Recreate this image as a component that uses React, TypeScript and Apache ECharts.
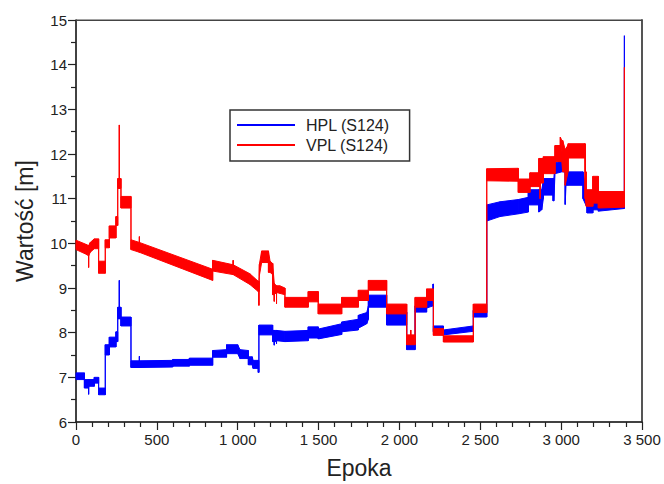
import React, { useEffect, useRef } from "react";
import * as echarts from "echarts";

// Epoch range and tick settings
const xTicks = [0, 500, 1000, 1500, 2000, 2500, 3000, 3500];
const yTicks = [6, 7, 8, 9, 10, 11, 12, 13, 14, 15];

const hplName = "HPL (S124)";
const vplName = "VPL (S124)";

// [epoch, lower edge of band, upper edge of band]
const hplRows: [number, number, number][] = [
  [0, 6.95, 7.1], [52, 6.95, 7.1], [52, 6.76, 6.95], [78, 6.76, 6.95], [78, 6.62, 6.95],
  [78, 6.8, 6.95], [113, 6.8, 6.95], [113, 6.87, 7.0], [140, 6.87, 7.0], [140, 6.61, 6.76],
  [181, 6.61, 6.76], [181, 7.5, 7.73], [206, 7.5, 7.73], [206, 7.68, 7.9], [247, 7.68, 7.9],
  [247, 7.8, 8.02], [258, 7.8, 8.02], [258, 8.31, 8.57], [268, 8.31, 8.57], [268, 8.31, 9.17],
  [268, 8.31, 8.57], [278, 8.31, 8.57], [278, 8.15, 8.35], [340, 8.15, 8.35], [340, 7.22, 7.37],
  [392, 7.22, 7.37], [392, 7.22, 7.47], [392, 7.22, 7.37], [598, 7.23, 7.38], [598, 7.25, 7.4],
  [701, 7.25, 7.4], [701, 7.27, 7.43], [845, 7.27, 7.43], [845, 7.45, 7.6], [931, 7.45, 7.62],
  [931, 7.53, 7.73], [1000, 7.53, 7.73], [1014, 7.42, 7.62], [1066, 7.42, 7.6], [1066, 7.28, 7.46],
  [1090, 7.28, 7.46], [1095, 7.2, 7.38], [1127, 7.2, 7.38], [1127, 7.11, 7.38], [1131, 7.11, 7.38],
  [1131, 7.95, 8.17], [1216, 7.95, 8.17], [1216, 7.8, 8.05], [1226, 7.8, 8.05], [1226, 7.72, 8.05],
  [1226, 7.8, 8.05], [1240, 7.8, 8.05], [1240, 7.75, 8.05], [1240, 7.82, 8.05], [1292, 7.8, 8.03],
  [1436, 7.82, 8.05], [1436, 7.88, 8.13], [1498, 7.88, 8.13], [1498, 7.86, 8.08], [1643, 7.96, 8.2],
  [1643, 8.02, 8.24], [1746, 8.06, 8.3], [1746, 8.1, 8.39], [1798, 8.2, 8.45], [1808, 8.3, 8.6],
  [1808, 8.57, 8.84], [1921, 8.57, 8.84], [1921, 8.17, 8.46], [2045, 8.17, 8.46], [2045, 7.62, 7.84],
  [2097, 7.62, 7.84], [2097, 8.46, 8.6], [2168, 8.46, 8.62], [2168, 8.55, 8.84], [2208, 8.6, 8.9],
  [2208, 8.6, 9.09], [2210, 8.6, 9.09], [2210, 8.02, 8.15], [2272, 8.02, 8.15], [2272, 7.95, 8.06],
  [2457, 8.03, 8.15], [2457, 8.35, 8.5], [2540, 8.35, 8.5], [2540, 10.5, 10.86], [2622, 10.6, 10.93],
  [2735, 10.66, 10.98], [2797, 10.7, 11.03], [2797, 10.86, 11.2], [2862, 10.86, 11.2], [2862, 10.7, 11.2],
  [2880, 10.75, 11.2], [2890, 11.0, 11.4], [2890, 11.08, 11.45], [2950, 11.08, 11.45], [2950, 10.95, 11.45],
  [2955, 10.95, 11.45], [2962, 11.56, 11.8], [3004, 11.6, 11.85], [3004, 11.6, 12.05], [3025, 11.6, 12.05],
  [3025, 10.87, 12.05], [3030, 11.3, 11.7], [3043, 11.3, 11.6], [3135, 11.3, 11.6], [3135, 11.0, 11.6],
  [3160, 10.8, 11.1], [3160, 10.68, 10.9], [3196, 10.68, 10.9], [3196, 10.75, 11.05], [3230, 10.75, 11.05],
  [3230, 10.72, 10.85], [3391, 10.78, 10.9], [3391, 10.78, 14.65],
];

const vplRows: [number, number, number][] = [
  [0, 9.86, 10.07], [60, 9.76, 9.98], [78, 9.72, 9.95], [78, 9.46, 9.95], [78, 9.72, 9.95],
  [88, 9.8, 10.02], [113, 9.88, 10.1], [140, 9.88, 10.1], [140, 9.33, 9.6], [181, 9.33, 9.6],
  [181, 9.9, 10.08], [206, 9.9, 10.08], [206, 10.12, 10.39], [247, 10.12, 10.39], [247, 10.4, 10.6],
  [258, 10.4, 10.6], [258, 11.23, 11.45], [268, 11.23, 11.45], [268, 11.23, 12.65], [268, 11.23, 11.45],
  [278, 11.23, 11.45], [278, 10.79, 11.05], [340, 10.79, 11.05], [340, 9.86, 10.08], [392, 9.8, 10.02],
  [392, 9.8, 10.15], [392, 9.8, 10.02], [845, 9.17, 9.42], [845, 9.38, 9.62], [972, 9.3, 9.52],
  [972, 9.3, 9.62], [972, 9.3, 9.52], [1075, 9.08, 9.32], [1127, 8.92, 9.15], [1131, 8.92, 9.15],
  [1131, 8.61, 9.15], [1131, 8.92, 9.15], [1134, 9.28, 9.53], [1148, 9.57, 9.83], [1190, 9.57, 9.83],
  [1190, 9.35, 9.83], [1200, 9.35, 9.6], [1216, 9.3, 9.55], [1216, 8.85, 9.55], [1226, 8.85, 9.1],
  [1226, 8.7, 9.1], [1226, 8.85, 9.1], [1240, 8.9, 9.05], [1240, 8.65, 9.05], [1240, 8.9, 9.05],
  [1260, 8.88, 9.05], [1292, 8.85, 9.0], [1292, 8.57, 8.79], [1436, 8.57, 8.79], [1436, 8.69, 8.92],
  [1498, 8.69, 8.92], [1498, 8.42, 8.64], [1643, 8.42, 8.64], [1643, 8.57, 8.79], [1746, 8.57, 8.79],
  [1746, 8.72, 8.95], [1808, 8.72, 8.95], [1808, 8.95, 9.17], [1921, 8.95, 9.17], [1921, 8.42, 8.64],
  [2045, 8.42, 8.64], [2045, 7.73, 7.95], [2070, 7.73, 7.95], [2070, 7.73, 8.06], [2070, 7.73, 7.95],
  [2097, 7.73, 7.95], [2097, 8.57, 8.79], [2168, 8.57, 8.79], [2168, 8.72, 8.98], [2210, 8.72, 8.98],
  [2210, 7.94, 8.09], [2272, 7.94, 8.09], [2272, 7.79, 7.93], [2457, 7.79, 7.93], [2457, 8.45, 8.64],
  [2540, 8.45, 8.64], [2540, 11.4, 11.67], [2735, 11.39, 11.68], [2735, 11.14, 11.44], [2807, 11.14, 11.44],
  [2807, 11.27, 11.58], [2862, 11.27, 11.58], [2862, 11.27, 11.9], [2870, 11.27, 11.9], [2870, 11.0, 11.9],
  [2870, 11.35, 11.9], [2890, 11.35, 11.9], [2890, 11.56, 11.94], [2962, 11.56, 11.94], [2962, 11.83, 12.19],
  [2995, 11.83, 12.19], [2995, 11.83, 12.38], [3004, 11.83, 12.3], [3010, 11.6, 12.3], [3025, 11.6, 12.1],
  [3025, 11.3, 12.1], [3043, 11.6, 12.2], [3043, 11.91, 12.23], [3148, 11.91, 12.23], [3148, 11.0, 12.23],
  [3150, 11.0, 11.6], [3155, 10.9, 11.6], [3155, 10.83, 11.2], [3196, 10.83, 11.2], [3196, 10.9, 11.5],
  [3230, 10.9, 11.5], [3230, 10.79, 11.16], [3391, 10.81, 11.16], [3391, 10.81, 13.94],
];

const hplColor = "#0000ff";
const vplColor = "#ff0000";
const font = "'Liberation Sans', Arial, sans-serif";

function bandRenderer(rows: [number, number, number][], color: string) {
  return (params: any, api: any) => {
    const i = params.dataIndex;
    if (i >= rows.length - 1) return null;
    const a = rows[i];
    const b = rows[i + 1];
    const pts = [
      api.coord([a[0], a[2]]),
      api.coord([b[0], b[2]]),
      api.coord([b[0], b[1]]),
      api.coord([a[0], a[1]]),
    ];
    return {
      type: "polygon",
      shape: { points: pts },
      style: { fill: color, stroke: color, lineWidth: 1 },
      silent: true,
    };
  };
}

function fmtThousands(v: number): string {
  if (v < 1000) return String(v);
  const th = Math.floor(v / 1000);
  const rest = String(v % 1000).padStart(3, "0");
  return `${th} ${rest}`;
}

export default function App() {
  const ref = useRef<HTMLDivElement>(null);
  useEffect(() => {
    const chart = echarts.init(ref.current!, null, { renderer: "svg" });
    const axisColor = "#222";
    chart.setOption({
      animation: false,
      backgroundColor: "#fff",
      grid: { left: 76, right: 22, top: 20, bottom: 58, show: true, borderColor: "#444", borderWidth: 1 },
      legend: {
        orient: "vertical",
        left: 230,
        top: 110,
        data: [
          { name: hplName, icon: "rect" },
          { name: vplName, icon: "rect" },
        ],
        itemWidth: 58,
        itemHeight: 2,
        itemGap: 4,
        padding: [7, 20, 8, 7],
        borderColor: "#333",
        borderWidth: 1.5,
        borderRadius: 0,
        backgroundColor: "#fff",
        textStyle: { fontFamily: font, fontSize: 16, color: "#222", padding: [0, 0, 0, 6] },
      },
      xAxis: [
        {
          type: "value",
          position: "bottom",
          min: xTicks[0],
          max: xTicks[xTicks.length - 1],
          interval: xTicks[1] - xTicks[0],
          name: "Epoka",
          nameLocation: "middle",
          nameGap: 34,
          nameTextStyle: { fontFamily: font, fontSize: 23, color: axisColor },
          axisLine: { show: true, onZero: false, lineStyle: { color: axisColor, width: 1.5 } },
          axisTick: { show: true, length: 8, lineStyle: { color: axisColor, width: 1.2 } },
          minorTick: { show: true, splitNumber: 5, length: 5, lineStyle: { color: axisColor, width: 1.2 } },
          splitLine: { show: false },
          axisLabel: {
            fontFamily: font,
            fontSize: 15,
            color: axisColor,
            margin: 10,
            formatter: (v: number) => fmtThousands(v),
          },
        },
        {
          type: "value",
          position: "top",
          min: xTicks[0],
          max: xTicks[xTicks.length - 1],
          axisLine: { show: true, onZero: false, lineStyle: { color: "#444", width: 1 } },
          axisTick: { show: false },
          axisLabel: { show: false },
          splitLine: { show: false },
        },
      ],
      yAxis: [
        {
          type: "value",
          position: "left",
          min: yTicks[0],
          max: yTicks[yTicks.length - 1],
          interval: 1,
          name: "Wartość [m]",
          nameLocation: "middle",
          nameGap: 40,
          nameRotate: 90,
          nameTextStyle: { fontFamily: font, fontSize: 23, color: axisColor },
          axisLine: { show: true, onZero: false, lineStyle: { color: axisColor, width: 1.5 } },
          axisTick: { show: true, length: 8, lineStyle: { color: axisColor, width: 1.2 } },
          minorTick: { show: true, splitNumber: 2, length: 5, lineStyle: { color: axisColor, width: 1.2 } },
          splitLine: { show: false },
          axisLabel: { fontFamily: font, fontSize: 15, color: axisColor, margin: 9 },
        },
        {
          type: "value",
          position: "right",
          min: yTicks[0],
          max: yTicks[yTicks.length - 1],
          axisLine: { show: true, onZero: false, lineStyle: { color: "#555", width: 2 } },
          axisTick: { show: false },
          axisLabel: { show: false },
          splitLine: { show: false },
        },
      ],
      series: [
        {
          type: "custom",
          name: hplName,
          xAxisIndex: 0,
          yAxisIndex: 0,
          itemStyle: { color: hplColor },
          encode: { x: 0, y: [1, 2] },
          data: hplRows,
          renderItem: bandRenderer(hplRows, hplColor),
          z: 2,
        },
        {
          type: "custom",
          name: vplName,
          xAxisIndex: 0,
          yAxisIndex: 0,
          itemStyle: { color: vplColor },
          encode: { x: 0, y: [1, 2] },
          data: vplRows,
          renderItem: bandRenderer(vplRows, vplColor),
          z: 3,
        },
      ],
    });
    return () => chart.dispose();
  }, []);
  return (
    <div
      ref={ref}
      style={{ position: "fixed", left: 0, top: 0, width: 664, height: 484, background: "#fff" }}
    />
  );
}
